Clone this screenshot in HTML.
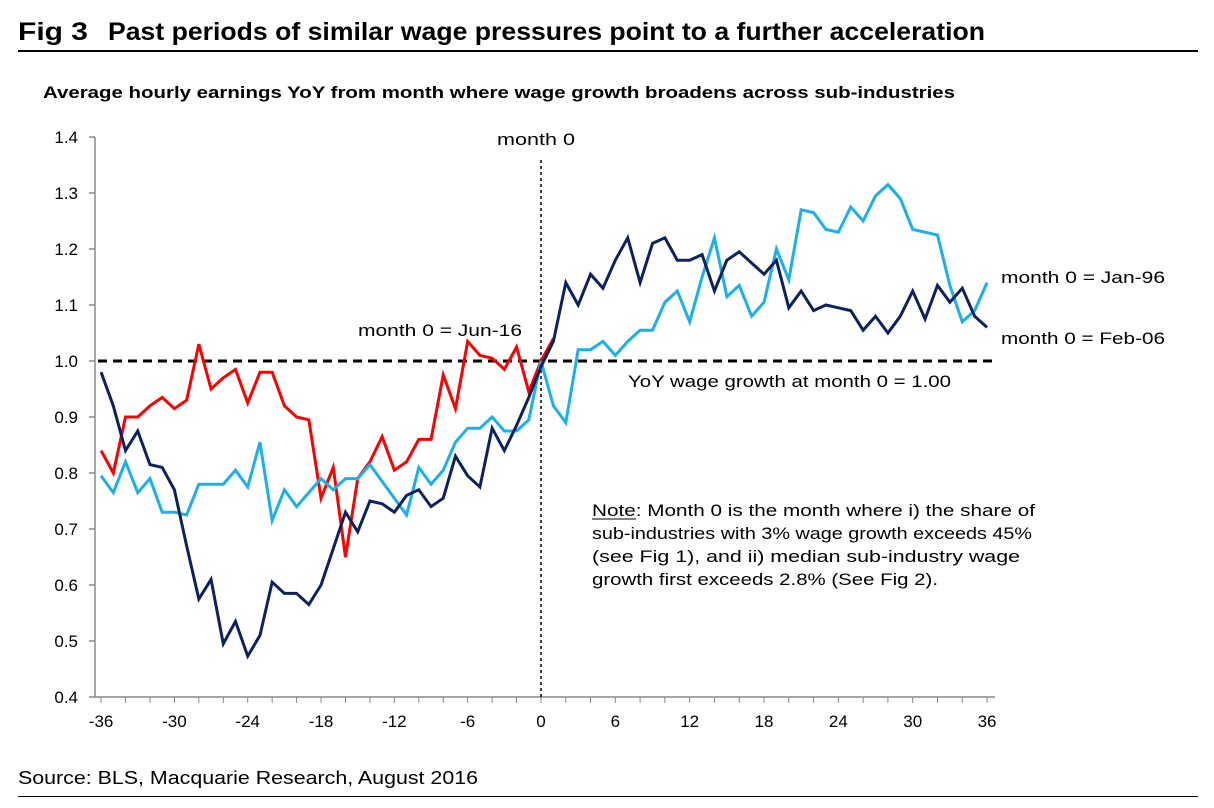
<!DOCTYPE html>
<html><head><meta charset="utf-8"><style>
body{margin:0;background:#fff;font-family:"Liberation Sans",Arial,sans-serif;}
#wrap{position:relative;width:1214px;height:808px;overflow:hidden;}
</style></head><body>
<div id="wrap">
<div style="position:absolute;left:18px;top:50px;width:1180px;height:2px;background:#000;"></div>
<svg id="chart" width="1214" height="808" style="position:absolute;left:0;top:0"></svg>
<div style="position:absolute;left:18px;top:796px;width:1180px;height:1px;background:#000;"></div>
</div>
<script>
const months=[];for(let m=-36;m<=36;m++)months.push(m);
const jun16=[0.84,0.80,0.90,0.90,0.92,0.935,0.915,0.93,1.03,0.95,0.97,0.985,0.925,0.98,0.98,0.92,0.90,0.895,0.755,0.81,0.65,0.79,0.82,0.865,0.805,0.82,0.86,0.86,0.975,0.915,1.035,1.01,1.005,0.985,1.025,0.945,1.0,1.04];
const feb06=[0.98,0.92,0.84,0.875,0.815,0.81,0.77,0.67,0.575,0.61,0.495,0.535,0.473,0.51,0.605,0.585,0.585,0.565,0.60,0.665,0.73,0.695,0.75,0.745,0.73,0.76,0.77,0.74,0.755,0.83,0.795,0.775,0.88,0.84,0.885,0.935,0.99,1.035,1.14,1.10,1.155,1.13,1.18,1.22,1.14,1.21,1.22,1.18,1.18,1.19,1.125,1.18,1.195,1.175,1.155,1.18,1.095,1.125,1.09,1.10,1.095,1.09,1.055,1.08,1.05,1.08,1.125,1.075,1.135,1.105,1.13,1.08,1.06];
const jan96=[0.795,0.765,0.82,0.765,0.79,0.73,0.73,0.725,0.78,0.78,0.78,0.805,0.775,0.855,0.715,0.77,0.74,0.765,0.79,0.77,0.79,0.79,0.815,0.785,0.755,0.725,0.81,0.78,0.805,0.855,0.88,0.88,0.90,0.875,0.875,0.895,1.0,0.92,0.89,1.02,1.02,1.035,1.01,1.035,1.055,1.055,1.105,1.125,1.07,1.15,1.22,1.115,1.135,1.08,1.105,1.20,1.145,1.27,1.265,1.235,1.23,1.275,1.25,1.295,1.315,1.29,1.235,1.23,1.225,1.135,1.07,1.09,1.14];
const yTicks=[0.4,0.5,0.6,0.7,0.8,0.9,1.0,1.1,1.2,1.3,1.4];
const xTicks=[-36,-30,-24,-18,-12,-6,0,6,12,18,24,30,36];
const NS='http://www.w3.org/2000/svg';
const svg=document.getElementById('chart');
const X=m=>541+(m)*(m<0?12.22:12.39);
const Y=v=>697-560*(v-0.4);
const FF='Liberation Sans, Arial, sans-serif';
function mk(tag,a,p){const e=document.createElementNS(NS,tag);for(const k in a)e.setAttribute(k,a[k]);(p||svg).appendChild(e);return e;}
function lab(txt,x,y,name,len,size,bold,anchor){
 const a={x:x,y:y,'font-size':size||17,'font-family':FF,'text-anchor':anchor||'start'};
 if(len){a.textLength=len;a.lengthAdjust='spacingAndGlyphs';}
 if(bold)a['font-weight']='bold';
 const t=mk('text',a);t.textContent=txt;
 
 
 return t;}
lab('Fig 3',18,40,'figure-number',70,25,true);
lab('Past periods of similar wage pressures point to a further acceleration',108,40,'figure-title',877,25,true);
lab('Average hourly earnings YoY from month where wage growth broadens across sub-industries',43,98,'chart-subtitle',912,17,true);
lab('Source: BLS, Macquarie Research, August 2016',18,784,'source-note',460,18);
let ax=mk('line',{x1:95,y1:137,x2:95,y2:697,stroke:'#888','stroke-width':1.5});


let xa=mk('line',{x1:95,y1:697,x2:995,y2:697,stroke:'#888','stroke-width':1.5});


yTicks.forEach(v=>{
 mk('line',{x1:89,y1:Y(v),x2:95,y2:Y(v),stroke:'#888','stroke-width':1.5});
 const t=mk('text',{x:78,y:Y(v)+6,'text-anchor':'end','font-size':17,'font-family':FF});
 t.textContent=v.toFixed(1);
 
 
});
for(let m=-36;m<=36;m+=2){mk('line',{x1:X(m),y1:697,x2:X(m),y2:703,stroke:'#888','stroke-width':1});}
xTicks.forEach(m=>{
 const t=mk('text',{x:X(m),y:727,'text-anchor':'middle','font-size':17,'font-family':FF});
 t.textContent=String(m);
 
 
});
let ref=mk('line',{x1:98,y1:Y(1),x2:995,y2:Y(1),stroke:'#000','stroke-width':3,'stroke-dasharray':'9,6'});


let vl=mk('line',{x1:X(0),y1:160,x2:X(0),y2:697,stroke:'#000','stroke-width':1.5,'stroke-dasharray':'3,3'});


function series(vals,col,name){
 const pts=vals.map((v,i)=>X(months[i])+','+Y(v)).join(' ');
 const p=mk('polyline',{points:pts,fill:'none',stroke:col,'stroke-width':3,'stroke-linejoin':'miter'});
 
 
}
series(jun16,'#ff0000','series-jun-16');
series(jan96,'#1ab0ea','series-jan-96');
series(feb06,'#0c2260','series-feb-06');
lab('month 0',497,145,'month-0-label',78);
lab('month 0 = Jun-16',358,336,'label-jun-16',164);
lab('month 0 = Jan-96',1001,283,'label-jan-96',164);
lab('month 0 = Feb-06',1001,344,'label-feb-06',164);
lab('YoY wage growth at month 0 = 1.00',628,387,'reference-label',323);
const note=['Note:  Month  0 is the month where  i) the share of','sub-industries with 3%  wage growth exceeds 45%','(see Fig 1), and ii) median sub-industry wage','growth first exceeds 2.8% (See Fig 2).'];
const noteLen=[443,440,428,346];
note.forEach((s,i)=>lab(s,592,516+i*23,'note-line',noteLen[i]));
mk('line',{x1:592,y1:519,x2:636,y2:519,stroke:'#000','stroke-width':1});
</script>
</body></html>
